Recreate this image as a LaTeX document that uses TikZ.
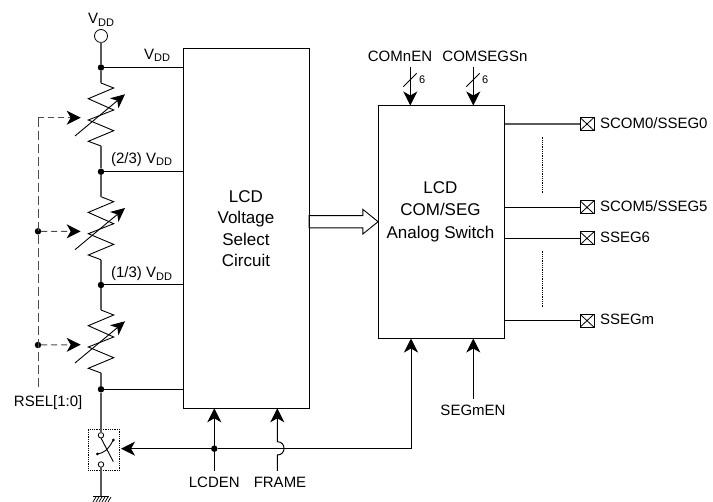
\documentclass[tikz,border=0pt]{standalone}
\usepackage{fontspec}
\setmainfont{Liberation Sans}
\usetikzlibrary{arrows.meta}
\usetikzlibrary{shapes.arrows}
\newcommand{\vdd}{V\raisebox{-2.5pt}{\fontsize{11}{11}\selectfont DD}}

\begin{document}
\begin{tikzpicture}[
		x=1pt, y=-1pt,
		block/.style = {rectangle, draw, line width=1.5, inner sep=0, outer sep=0},
		lbl/.style = {inner sep=0, outer sep=0, anchor=base, font=\fontsize{15}{18}\selectfont},
		big/.style = {inner sep=0, outer sep=0, align=center, font=\fontsize{17}{21.5}\selectfont},
		tiny/.style = {inner sep=0, outer sep=0, anchor=base, font=\fontsize{11}{13}\selectfont},
		dot/.style = {circle, fill=black, inner sep=0, outer sep=0, minimum size=6.5},
		hole/.style = {circle, draw, fill=white, inner sep=0, outer sep=0, line width=0.8},
		pad/.style = {rectangle, draw, line width=0.8, inner sep=0, outer sep=0, minimum width=14, minimum height=13,
			path picture={\draw[line width=0.8] (path picture bounding box.north west) -- (path picture bounding box.south east)
				(path picture bounding box.south west) -- (path picture bounding box.north east);}},
		bus/.style = {single arrow, draw, line width=0.9, inner sep=5.65, outer sep=0, minimum height=69, minimum width=24.7,
			single arrow head extend=6.2, single arrow tip angle=78},
		r/.style = {line width=1.4, black!65},
		w/.style = {line width=1},
		ctl/.style = {line width=1, -{Stealth[length=14, width=14, inset=4]}},
		sel/.style = {line width=1, black!70, dash pattern=on 6 off 4, -{Stealth[length=14, width=14, inset=4, black]}},
		rheo/.pic = {
			\coordinate (-top) at (0,0);
			\coordinate (-bot) at (0,63);
			\coordinate (-in) at (-20.3,34.7);
			\draw[line width=0.9] (0,0) -- (12.7,5) -- (-12.7,15.7) -- (12.7,27) -- (-12.7,37) -- (12.7,47.7) -- (-12.7,58.3) -- (0,63);
			\draw[line width=0.9, -{Stealth[length=14, width=13, inset=4]}] (-26,53) -- (24,11.3);
		}
		]
		\useasboundingbox (0,0) rectangle (713,502);
		
		%Nodes
		\node[hole, minimum size=13]	(vpin)	at	(101, 36)		{};
		\node[dot]	(d1)	at	(101, 67.5)		{};
		\node[dot]	(d2)	at	(101, 171.7)	{};
		\node[dot]	(d3)	at	(101, 285)		{};
		\node[dot]	(d4)	at	(101, 389.3)	{};
		\pic	(r1)	at	(101, 83)	{rheo};
		\pic	(r2)	at	(101, 196.7)	{rheo};
		\pic	(r3)	at	(101, 310)	{rheo};
		
		\node[block, minimum width=126, minimum height=360]	(vsel)	at	(246.3, 228.3)	{};
		\node[big]	(vseltxt)	at	(246, 228.5)	{LCD\\Voltage\\Select\\Circuit};
		\node[block, minimum width=126, minimum height=233]	(sw)	at	(441.7, 222)	{};
		\node[big, font=\fontsize{17}{22.5}\selectfont]	(swtxt)	at	(440.5, 211.5)	{LCD\\COM/SEG\\Analog Switch};
		\node[bus]	(vbus)	at	(339.8, 221.7)	{};
		
		\node[dot]	(sa)	at	(38, 231.3)		{};
		\node[dot]	(sb)	at	(38, 345)		{};
		\coordinate	(stop)	at	(38, 117.7);
		\coordinate	(send)	at	(38, 390);
		
		%Switch
		\node[rectangle, draw, densely dotted, line width=0.8, inner sep=0, minimum width=31, minimum height=41.4]	(swbox)	at	(103.8, 450)	{};
		\node[hole, minimum size=5.5]	(c1)	at	(101, 435.3)	{};
		\node[hole, minimum size=5.5]	(c2)	at	(101, 464.5)	{};
		\coordinate	(gnd)	at	(101, 496.5);
		\coordinate	(ctltip)	at	(121, 448.7);
		\node[dot]	(dc)	at	(214.3, 448.7)	{};
		\coordinate	(corner)	at	(411, 448.7);
		
		%Labels
		\node[lbl]	(lvdd)	at	(101, 24)		{\vdd};
		\node[lbl, anchor=base east]	(l1)	at	(170, 59.3)		{\vdd};
		\node[lbl, anchor=base east]	(l2)	at	(172, 163.3)	{(2/3) \vdd};
		\node[lbl, anchor=base east]	(l3)	at	(172, 277.7)	{(1/3) \vdd};
		\node[lbl, anchor=base east]	(rsel)	at	(82.3, 406.7)	{RSEL[1:0]};
		\node[lbl]	(lcden)	at	(214.3, 487.7)	{LCDEN};
		\node[lbl]	(frame)	at	(280, 487.7)	{FRAME};
		\node[lbl]	(comen)	at	(400, 61.7)		{COMnEN};
		\node[lbl]	(comseg)	at	(485, 61.7)		{COMSEGSn};
		\node[lbl]	(segen)	at	(473, 416)		{SEGmEN};
		\node[tiny]	(n1)	at	(422.3, 84)		{6};
		\node[tiny]	(n2)	at	(485.3, 84)		{6};
		\coordinate	(lcdin)	at	(214.3, 471);
		\coordinate	(framein)	at	(277.3, 471);
		\coordinate	(comin)	at	(410.3, 67.3);
		\coordinate	(segin)	at	(473.3, 67.3);
		\coordinate	(segmin)	at	(473.3, 399);
		
		%Pads
		\node[pad]	(p0)	at	(587, 124)		{};
		\node[pad]	(p5)	at	(587, 207.3)	{};
		\node[pad]	(p6)	at	(587, 238.3)	{};
		\node[pad]	(pm)	at	(587, 320.7)	{};
		\node[lbl, anchor=base west]	(t0)	at	(600, 128.8)	{SCOM0/SSEG0};
		\node[lbl, anchor=base west]	(t5)	at	(600, 212)		{SCOM5/SSEG5};
		\node[lbl, anchor=base west]	(t6)	at	(600, 242.5)	{SSEG6};
		\node[lbl, anchor=base west]	(tm)	at	(600, 325)		{SSEGm};
		
		%Lines
		\draw[r]	(vpin.south)	to	(d1);
		\draw[r]	(d1)	to	(r1-top);
		\draw[r]	(r1-bot)	to	(d2);
		\draw[r]	(d2)	to	(r2-top);
		\draw[r]	(r2-bot)	to	(d3);
		\draw[r]	(d3)	to	(r3-top);
		\draw[r]	(r3-bot)	to	(d4);
		\draw[r]	(d4)	to	(c1.north);
		\draw[r]	(c2.south)	to	(gnd);
		\draw[w]	(d1)	to	(d1 -| vsel.west);
		\draw[w]	(d2)	to	(d2 -| vsel.west);
		\draw[w]	(d3)	to	(d3 -| vsel.west);
		\draw[w]	(d4)	to	(d4 -| vsel.west);
		
		\draw[sel]	(stop)	to	(r1-in);
		\draw[sel]	(sa)	to	(r2-in);
		\draw[sel]	(sb)	to	(r3-in);
		\draw[w, black!70, dash pattern=on 9 off 4]	(stop)	to	(send);
		
		\draw[ctl]	(dc)	to	(ctltip);
		\draw[ctl]	(dc)	-|	(sw.south -| corner);
		\draw[ctl]	(lcdin)	to	(lcdin |- vsel.south);
		\draw[ctl]	(framein)	to	(277.3, 455)	.. controls (286.3, 455) and (286.3, 441.7) ..	(277.3, 441.7)	to	(framein |- vsel.south);
		\draw[ctl]	(comin)	to	(comin |- sw.north);
		\draw[ctl]	(segin)	to	(segin |- sw.north);
		\draw[ctl]	(segmin)	to	(segmin |- sw.south);
		\draw[w]	(403.3, 86.7)	to	(416.7, 73.3);
		\draw[w]	(466.3, 86.7)	to	(479.7, 73.3);
		
		\draw[r]	(sw.east |- p0)	to	(p0.west);
		\draw[w]	(sw.east |- p5)	to	(p5.west);
		\draw[w]	(sw.east |- p6)	to	(p6.west);
		\draw[w]	(sw.east |- pm)	to	(pm.west);
		\draw[densely dotted, line width=0.8]	(542.3, 136.7)	to	(542.3, 193.3);
		\draw[densely dotted, line width=0.8]	(542.3, 250.7)	to	(542.3, 307.3);
		
		%Switch arm and ground
		\draw[line width=0.9]	(c1.south)	to	(113.3, 461.7);
		\draw[line width=0.9]	(113.3, 440)	.. controls (108, 450) and (104, 453) ..	(97.3, 454);
		\fill	(113.3, 440)	circle (1.5);
		\fill	(97.3, 454)	circle (1.5);
		\draw[line width=0.9]	(92.7, 496.5)	to	(109.3, 496.5);
		\foreach \hx in {96, 99, 102, 105, 108, 111}
			\draw[line width=0.7]	(\hx, 497)	to	(\hx-3, 502);
	\end{tikzpicture}
\end{document}
